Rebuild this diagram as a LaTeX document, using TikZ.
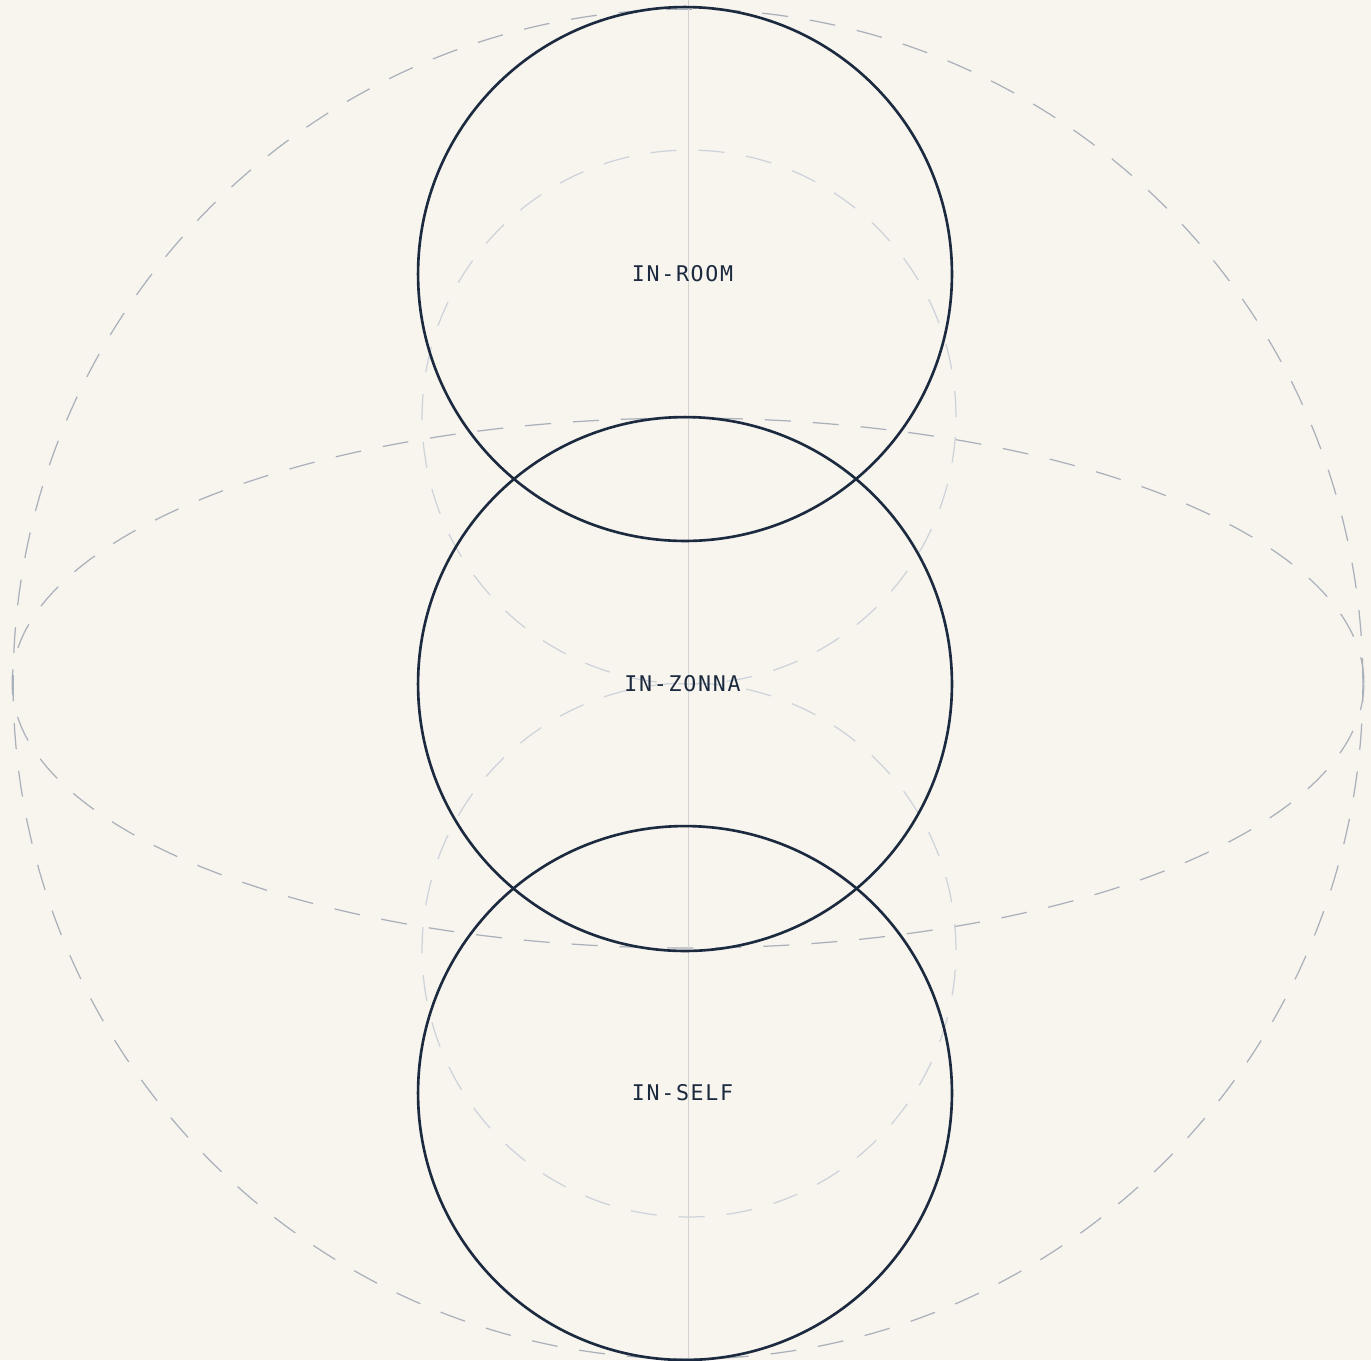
\documentclass[tikz,border=0pt]{standalone}
\usepackage{fontspec}
\newfontfamily\zonefont[LetterSpace=8]{DejaVu Sans Mono}
\usetikzlibrary{positioning}
\definecolor{paper}{HTML}{F8F4EE}
\definecolor{ink}{HTML}{1B2A3F}
\definecolor{guide}{HTML}{A9B1BB}
\definecolor{faint}{HTML}{CDD3DA}
\definecolor{axis}{HTML}{D3D3D3}

\begin{document}
\begin{tikzpicture}[x=0.02cm, y=-0.02cm,
  zone/.style={circle, draw=ink, line width=1.5pt, minimum size=10.68cm, inner sep=0pt,
    text=ink, font=\zonefont\fontsize{12.3}{14}\selectfont},
  guideline/.style={line width=0.7pt, dash pattern=on 0.52cm off 0.44cm}]
\fill[paper] (0,0) rectangle (1371,1360);
\useasboundingbox (0,0) rectangle (1371,1360);
% guides
\draw[guideline, guide] (688,684) circle [radius=13.5cm];
\draw[guideline, guide] (688,683) ellipse [x radius=13.52cm, y radius=5.3cm];
\foreach \y in {417,950} \draw[guideline, faint] (689,\y) circle [radius=5.34cm];
\draw[axis, line width=0.5pt] (688,0) -- (688,1360);
% zones
\node[zone] (room) at (685,274) {\hspace*{-0.1cm}IN-ROOM};
\node[zone] (zonna) at (685,684) {\hspace*{-0.1cm}IN-ZONNA};
\node[zone] (self) at (685,1093) {\hspace*{-0.1cm}IN-SELF};
\end{tikzpicture}
\end{document}
